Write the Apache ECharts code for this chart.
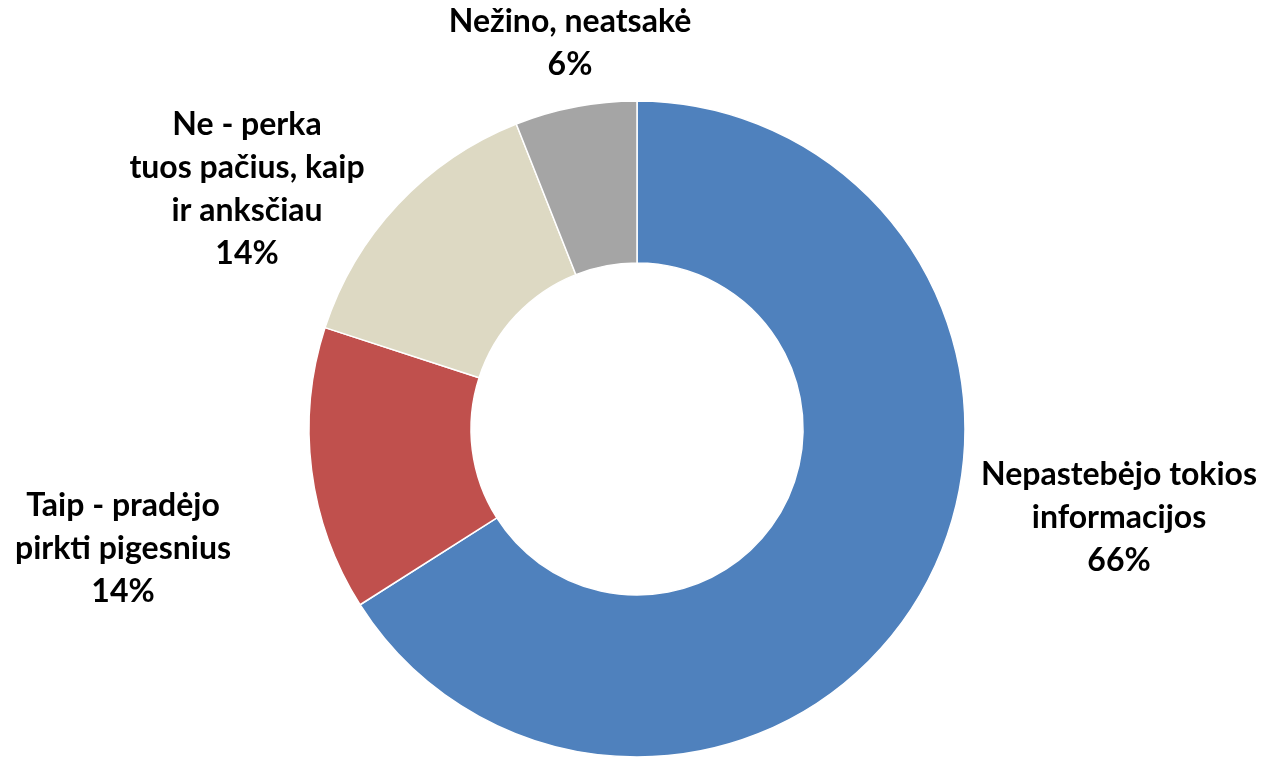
<!DOCTYPE html>
<html>
<head>
<meta charset="utf-8">
<script src="https://cdn.jsdelivr.net/npm/echarts@6/dist/echarts.min.js"></script>
<style>
  html, body { margin: 0; padding: 0; background: #fff; }
  #chart { width: 1264px; height: 758px; }
</style>
</head>
<body>
<div id="chart"></div>
<script>
  // kategorijos ir reikšmės (%)
  var categories = [
    'Nepastebėjo tokios\ninformacijos',
    'Taip - pradėjo\npirkti pigesnius',
    'Ne - perka\ntuos pačius, kaip\nir anksčiau',
    'Nežino, neatsakė'
  ]
  var values = [66, 14, 14, 6]
  var colors = ['#4F81BD', '#C0504D', '#DDD9C3', '#A5A5A5']

  // etikečių centrai (px)
  var labelPos = [
    [1119, 518],
    [123, 549],
    [247, 189],
    [570, 43]
  ]

  var myChart = echarts.init(document.getElementById('chart'))
  var option = {
    animation: false,
    color: colors,
    series: [{
      type: 'pie',
      center: [637, 429],
      radius: [166, 328],
      startAngle: 90,
      clockwise: true,
      itemStyle: {
        borderColor: '#fff',
        borderWidth: 1.5
      },
      label: {
        show: true,
        position: 'outside',
        formatter: '{b}\n{d}%',
        fontFamily: 'Lato',
        fontWeight: 'bold',
        fontSize: 32,
        lineHeight: 43,
        color: '#000',
        align: 'center'
      },
      labelLine: { show: false },
      labelLayout: function (params) {
        var p = labelPos[params.dataIndex]
        return {
          x: p[0],
          y: p[1],
          align: 'center',
          verticalAlign: 'middle'
        }
      },
      data: categories.map(function (c, i) {
        return { name: c, value: values[i] }
      })
    }]
  }
  myChart.setOption(option)
</script>
</body>
</html>
